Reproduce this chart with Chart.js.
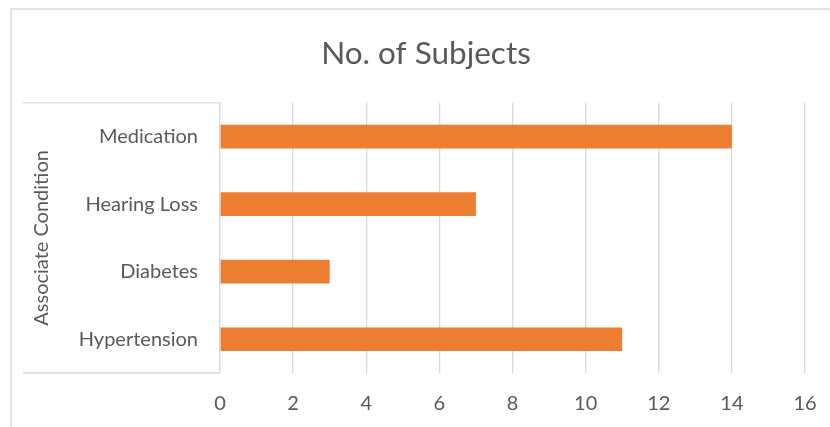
<!DOCTYPE html>
<html>
<head>
<meta charset="utf-8">
<script src="https://cdn.jsdelivr.net/npm/chart.js@4/dist/chart.umd.min.js"></script>
<style>
    html, body { margin: 0; padding: 0; background: #fff; overflow: hidden; }
    canvas { display: block; }
</style>
</head>
<body>
<canvas id="subjectsChart" width="830" height="427"></canvas>
<script>
// Associated conditions, listed top to bottom
const conditions = ['Medication', 'Hearing Loss', 'Diabetes', 'Hypertension'];
const subjectCounts = [14, 7, 3, 11];
const xTicks = [0, 2, 4, 6, 8, 10, 12, 14, 16];

const TEXT = '#595959';
const LINE = '#D9D9D9';
const FONT = 'Lato, "Noto Sans", sans-serif';
const PAD_LEFT = 47;

// Outer frame plus the bracket around the category labels
const framePlugin = {
    id: 'frame',
    afterDraw(chart) {
        const { ctx, chartArea } = chart;
        ctx.save();
        ctx.strokeStyle = LINE;
        ctx.lineWidth = 1.5;
        ctx.beginPath();
        ctx.moveTo(11, 427);
        ctx.lineTo(11, 9);
        ctx.lineTo(830, 9);
        ctx.stroke();

        ctx.lineWidth = 1.3;
        ctx.beginPath();
        ctx.moveTo(23, chartArea.top);
        ctx.lineTo(chartArea.left, chartArea.top);
        ctx.moveTo(23, chartArea.bottom);
        ctx.lineTo(chartArea.left, chartArea.bottom);
        ctx.stroke();
        ctx.restore();
    }
};

new Chart(document.getElementById('subjectsChart'), {
    type: 'bar',
    data: {
        labels: conditions,
        datasets: [{
            label: 'No. of Subjects',
            data: subjectCounts,
            backgroundColor: '#ED7D31',
            borderWidth: 0,
            categoryPercentage: 1,
            barPercentage: 0.35
        }]
    },
    options: {
        indexAxis: 'y',
        responsive: false,
        animation: false,
        layout: { padding: { top: 0, right: 25, bottom: 0, left: PAD_LEFT } },
        plugins: {
            legend: { display: false },
            tooltip: { enabled: false },
            title: {
                display: true,
                text: 'No. of Subjects',
                color: TEXT,
                font: { family: FONT, size: 31.5, weight: 'normal' },
                padding: { top: 35, bottom: 30 }
            }
        },
        scales: {
            x: {
                min: 0,
                max: 16,
                afterBuildTicks: scale => {
                    scale.ticks = xTicks.map(v => ({ value: v }));
                },
                afterFit: scale => {
                    scale.height = 54;
                    // tick padding is vertical here; keep it out of the side padding
                    scale.paddingLeft = 0;
                    scale.paddingRight = 0;
                },
                grid: { color: LINE, lineWidth: 1.3, drawTicks: false },
                border: { display: false },
                ticks: {
                    color: TEXT,
                    padding: 19,
                    font: { family: FONT, size: 20 }
                }
            },
            y: {
                afterFit: scale => { scale.width = 220 - PAD_LEFT; },
                grid: { display: false, drawTicks: false },
                border: { display: true, color: LINE, width: 1.3 },
                ticks: {
                    color: TEXT,
                    padding: 22,
                    font: { family: FONT, size: 20 }
                },
                title: {
                    display: true,
                    text: 'Associate Condition',
                    color: TEXT,
                    font: { family: FONT, size: 20 },
                    padding: { top: -17 }
                }
            }
        }
    },
    plugins: [framePlugin]
});
</script>
</body>
</html>
